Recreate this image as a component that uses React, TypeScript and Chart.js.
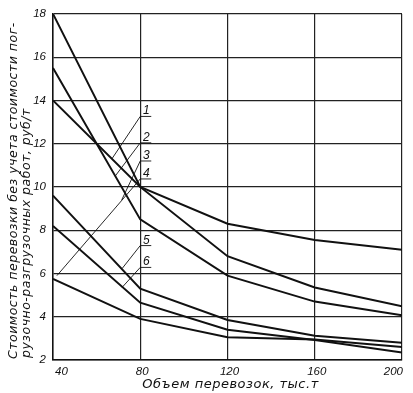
import React, { useEffect, useRef } from "react";
import { Chart, registerables } from "chart.js";

Chart.register(...registerables);

// ---- data ----
const volumes = [40, 80, 120, 160, 200];
const curve1 = [14.0, 10.0, 8.3, 7.55, 7.1];
const curve2 = [18.0, 10.0, 6.8, 5.35, 4.48];
const curve3 = [15.5, 8.5, 5.9, 4.7, 4.07];
const curve4 = [5.75, 3.9, 3.05, 2.95, 2.6];
const curve5 = [9.6, 5.3, 3.85, 3.12, 2.8];
const curve6 = [8.2, 4.65, 3.4, 2.92, 2.35];

const xTicks = [40, 80, 120, 160, 200];
const yTicks = [2, 4, 6, 8, 10, 12, 14, 16, 18];

const yTitleLines = [
  "Стоимость перевозки без учета стоимости пог-",
  "рузочно-разгрузочных работ, руб/т",
];
const xTitle = "Объем перевозок, тыс.т";

// curve number labels with leader lines (data units)
const curveLabels = ["1", "2", "3", "4", "5", "6"];
const labelAnchorX = [80, 80, 80, 80, 80, 80];
const labelAnchorY = [13.26, 12.04, 11.2, 10.37, 7.29, 6.28];
const leaderEndX = [67.0, 68.5, 71.5, 41.8, 71.7, 71.7];
const leaderEndY = [11.3, 10.5, 9.4, 5.9, 6.23, 5.36];

const allCurves = [curve1, curve2, curve3, curve4, curve5, curve6];

const overlay = {
  id: "overlay",
  afterDraw(chart: any) {
    const { ctx, chartArea } = chart;
    const x = chart.scales.x;
    const y = chart.scales.y;
    ctx.save();
    ctx.fillStyle = "#111";
    ctx.strokeStyle = "#111";

    // x tick labels
    ctx.font = "italic 11.5px 'Liberation Sans'";
    ctx.textBaseline = "top";
    const last = xTicks.length - 1;
    xTicks.forEach((v, i) => {
      const px = x.getPixelForValue(v);
      ctx.textAlign = i === 0 ? "left" : i === last ? "right" : "center";
      ctx.fillText(String(v), px + (i === last ? 1 : 2), chartArea.bottom + 6);
    });

    // x title
    ctx.font = "italic 13px 'DejaVu Sans'";
    ctx.textAlign = "center";
    ctx.textBaseline = "middle";
    (ctx as any).letterSpacing = "0.5px";
    ctx.fillText(xTitle, (chartArea.left + chartArea.right) / 2 + 3, chartArea.bottom + 25);

    // y title (rotated)
    ctx.save();
    ctx.translate(0, chartArea.bottom);
    ctx.rotate(-Math.PI / 2);
    ctx.font = "italic 12.5px 'DejaVu Sans'";
    ctx.textAlign = "left";
    (ctx as any).letterSpacing = "0.5px";
    yTitleLines.forEach((line, i) => {
      ctx.fillText(line, 1 + i * 1, 14 + i * 13);
    });
    ctx.restore();
    (ctx as any).letterSpacing = "0px";

    // curve labels + leaders
    ctx.lineWidth = 0.9;
    ctx.font = "italic 12px 'Liberation Sans'";
    ctx.textAlign = "center";
    ctx.textBaseline = "alphabetic";
    curveLabels.forEach((t, i) => {
      const ax = x.getPixelForValue(labelAnchorX[i]);
      const ay = y.getPixelForValue(labelAnchorY[i]);
      const ex = x.getPixelForValue(leaderEndX[i]);
      const ey = y.getPixelForValue(leaderEndY[i]);
      ctx.beginPath();
      ctx.moveTo(ex, ey);
      ctx.lineTo(ax, ay);
      ctx.lineTo(ax + 11, ay);
      ctx.stroke();
      ctx.fillText(t, ax + 6, ay - 2);
    });
    ctx.restore();
  },
};

export default function App() {
  const ref = useRef<HTMLCanvasElement>(null);
  useEffect(() => {
    if (!ref.current) return;
    const chart = new Chart(ref.current, {
      type: "line",
      data: {
        datasets: allCurves.map((c, i) => ({
          label: curveLabels[i],
          data: volumes.map((v, j) => ({ x: v, y: c[j] })),
          borderColor: "#111",
          borderWidth: 2,
          pointRadius: 0,
          tension: 0,
          fill: false,
        })),
      },
      options: {
        animation: false,
        responsive: true,
        maintainAspectRatio: false,
        layout: { padding: { top: 12, right: 11, left: 0, bottom: 0 } },
        plugins: { legend: { display: false }, tooltip: { enabled: false } },
        scales: {
          x: {
            type: "linear",
            min: 40,
            max: 200,
            afterBuildTicks: (s: any) => {
              s.ticks = xTicks.map((v) => ({ value: v }));
            },
            ticks: { display: false },
            grid: { color: "#222", lineWidth: 1.2, drawTicks: false },
            border: { display: true, color: "#111", width: 1.5 },
            afterFit: (s: any) => {
              s.height = 33;
            },
          },
          y: {
            type: "linear",
            min: 2,
            max: 18,
            afterBuildTicks: (s: any) => {
              s.ticks = yTicks.map((v) => ({ value: v }));
            },
            ticks: {
              color: "#111",
              padding: 7,
              font: { family: "'Liberation Sans'", size: 11.5, style: "italic" },
            },
            grid: { color: "#222", lineWidth: 1.2, drawTicks: false },
            border: { display: true, color: "#111", width: 1.5 },
            afterFit: (s: any) => {
              s.width = 53;
            },
          },
        },
      },
      plugins: [overlay],
    });
    return () => chart.destroy();
  }, []);
  return (
    <div style={{ position: "absolute", left: 0, top: 0, width: 413, height: 393, background: "#fff" }}>
      <canvas ref={ref} />
    </div>
  );
}
